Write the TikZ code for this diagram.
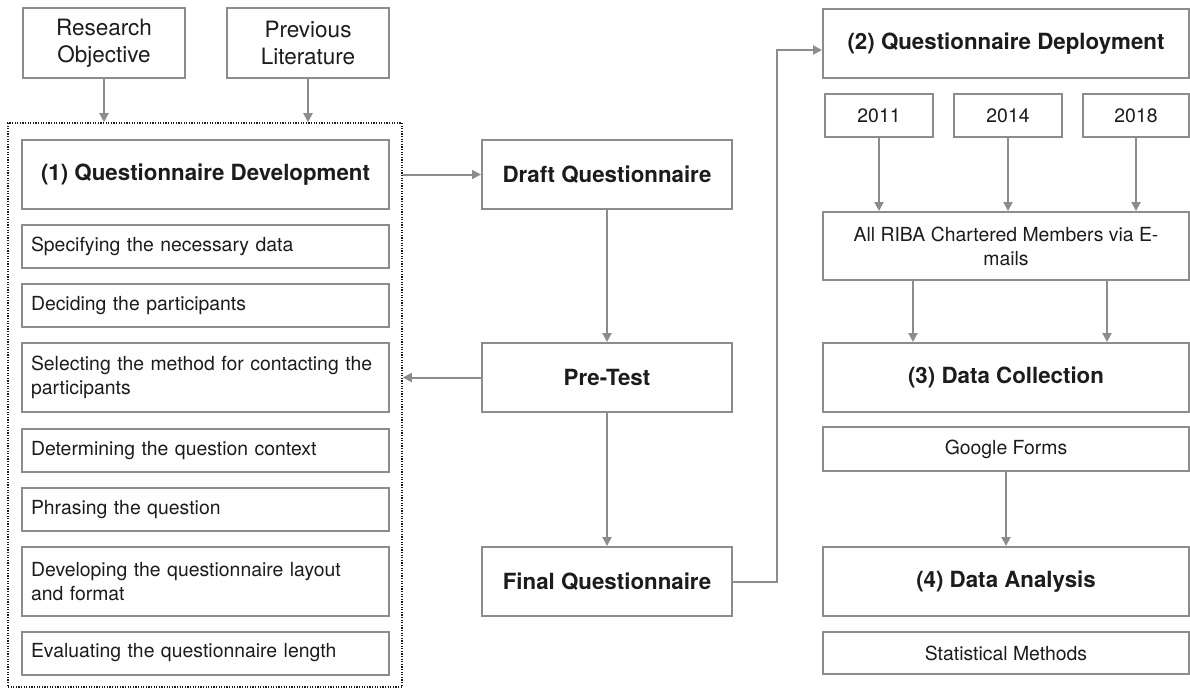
\documentclass[tikz,border=0pt]{standalone}
\usepackage{fontspec}
\setmainfont{TeX Gyre Heros}
\usetikzlibrary{arrows.meta}
\definecolor{edge}{HTML}{8C8C8C}
\definecolor{ink}{HTML}{1C1C1C}
\tikzset{
  base/.style={draw=edge, line width=2pt, rectangle, inner sep=0pt, text=ink, align=center},
  topbox/.style={base, font=\fontsize{22.5}{27}\selectfont},
  headbox/.style={base, font=\fontsize{22.3}{26}\selectfont\bfseries},
  itembox/.style={base, font=\fontsize{19.4}{24}\selectfont},
  listbox/.style={base, font=\fontsize{19.4}{24}\selectfont, align=left, text width=#1, inner xsep=9pt},
  groupbox/.style={draw=ink, line width=1.6pt, dash pattern=on 1.2pt off 1.4pt, rectangle, inner sep=0pt},
  arr/.style={draw=edge, line width=2pt, -{Triangle[length=9pt,width=9pt]}},
  ln/.style={draw=edge, line width=2pt}
}
\begin{document}
\begin{tikzpicture}[x=1pt,y=-1pt]
\useasboundingbox (0,0) rectangle (1190,691);
% left column
\node[topbox, minimum width=162pt, minimum height=70pt] (ro) at (104,43) {Research\\Objective};
\node[topbox, minimum width=162pt, minimum height=70pt] (pl) at (308,43) {Previous\\Literature};
\node[groupbox, minimum width=394pt, minimum height=564pt] (dev) at (205,405) {};
\node[headbox, minimum width=367pt, minimum height=69pt] (qdev) at (205.5,174.5) {(1) Questionnaire Development};
\node[listbox=349pt, minimum width=367pt, minimum height=43pt] (s1) at (205.5,246.5) {Specifying the necessary data};
\node[listbox=349pt, minimum width=367pt, minimum height=43pt] (s2) at (205.5,305.5) {Deciding the participants};
\node[listbox=349pt, minimum width=367pt, minimum height=69pt] (s3) at (205.5,377.5) {Selecting the method for contacting the\\participants};
\node[listbox=349pt, minimum width=367pt, minimum height=43pt] (s4) at (205.5,450.5) {Determining the question context};
\node[listbox=349pt, minimum width=367pt, minimum height=43pt] (s5) at (205.5,509.5) {Phrasing the question};
\node[listbox=349pt, minimum width=367pt, minimum height=69pt] (s6) at (205.5,581.5) {Developing the questionnaire layout\\and format};
\node[listbox=349pt, minimum width=367pt, minimum height=43pt] (s7) at (205.5,653) {Evaluating the questionnaire length};
% middle column
\node[headbox, minimum width=250pt, minimum height=69pt] (dq) at (607,174.5) {Draft Questionnaire};
\node[headbox, minimum width=250pt, minimum height=69pt] (pt) at (607,377.5) {Pre-Test};
\node[headbox, minimum width=250pt, minimum height=69pt] (fq) at (607,581.5) {Final Questionnaire};
% right column
\node[headbox, minimum width=366pt, minimum height=69pt] (qdep) at (1006,43.5) {(2) Questionnaire Deployment};
\node[itembox, minimum width=108pt, minimum height=43pt] (y1) at (879,115.5) {2011};
\node[itembox, minimum width=108pt, minimum height=43pt] (y2) at (1008,115.5) {2014};
\node[itembox, minimum width=106pt, minimum height=43pt] (y3) at (1136,115.5) {2018};
\node[itembox, minimum width=366pt, minimum height=68pt] (riba) at (1006,246) {All RIBA Chartered Members via E-\\mails};
\node[headbox, minimum width=366pt, minimum height=69pt] (dc) at (1006,377.5) {(3) Data Collection};
\node[itembox, minimum width=366pt, minimum height=44pt] (gf) at (1006,449) {Google Forms};
\node[headbox, minimum width=366pt, minimum height=69pt] (da) at (1006,581.5) {(4) Data Analysis};
\node[itembox, minimum width=366pt, minimum height=42pt] (sm) at (1006,653) {Statistical Methods};
\coordinate (bend) at (777,50);
% connectors
\draw[arr] (ro.south) -- (ro.south |- dev.north);
\draw[arr] (pl.south) -- (pl.south |- dev.north);
\draw[arr] (dev.east |- dq.west) -- (dq.west);
\draw[arr] (dq.south) -- (pt.north);
\draw[arr] (pt.west) -- (pt.west -| dev.east);
\draw[arr] (pt.south) -- (fq.north);
\draw[arr] (fq.east) -| (bend) -- (bend -| qdep.west);
\draw[arr] (y1.south) -- (y1.south |- riba.north);
\draw[arr] (y2.south) -- (y2.south |- riba.north);
\draw[arr] (y3.south) -- (y3.south |- riba.north);
\draw[arr] ([xshift=-93pt]riba.south) -- ([xshift=-93pt]dc.north);
\draw[arr] ([xshift=101pt]riba.south) -- ([xshift=101pt]dc.north);
\draw[arr] (gf.south) -- (da.north);
\end{tikzpicture}
\end{document}
